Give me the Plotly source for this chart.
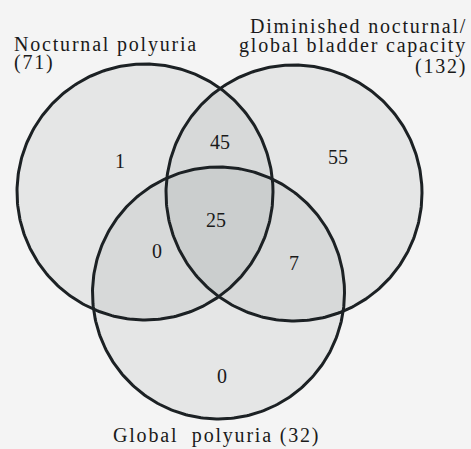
import numpy as np
import plotly.graph_objects as go

# ---- data ----
set_names = ["Nocturnal polyuria", "Diminished nocturnal/<br>global bladder capacity", "Global polyuria"]
set_totals = [71, 132, 32]
region_labels = ["A only", "B only", "C only", "A&B", "A&C", "B&C", "A&B&C"]
region_counts = [1, 55, 0, 45, 0, 7, 25]

# ---- geometry (pixel space) ----
W, H = 471, 449
circles = [(145, 192, 128), (294, 193, 128), (218.5, 293, 126)]
region_pos = [(120, 163), (338, 159), (222, 378), (220, 144), (157, 253), (294, 265), (216, 222)]

BG = "#f4f4f4"
FONT = "Liberation Serif, Times New Roman, serif"
LS = "letter-spacing:1.8px"

fig = go.Figure()
t = np.linspace(0, 2 * np.pi, 361)
for cx, cy, r in circles:
    fig.add_trace(go.Scatter(x=cx + r * np.cos(t), y=cy + r * np.sin(t), mode="lines",
                             fill="toself", fillcolor="rgba(110,116,122,0.11)",
                             line=dict(width=0), hoverinfo="skip", showlegend=False))
for cx, cy, r in circles:
    fig.add_trace(go.Scatter(x=cx + r * np.cos(t), y=cy + r * np.sin(t), mode="lines",
                             line=dict(color="#1c2124", width=3), hoverinfo="skip", showlegend=False))

fig.add_trace(go.Scatter(x=[p[0] for p in region_pos], y=[p[1] for p in region_pos],
                         mode="text", text=[str(v) for v in region_counts],
                         textfont=dict(family=FONT, size=20, color="#1a1a1a"),
                         hoverinfo="skip", showlegend=False))

def lab(text, x, y, anchor):
    fig.add_annotation(x=x, y=y, xref="x", yref="y", text=f'<span style="{LS}">{text}</span>',
                       showarrow=False, xanchor=anchor, yanchor="middle",
                       font=dict(family=FONT, size=20, color="#1a1a1a"))

lab(set_names[0], 12, 44, "left")
lab(f"({set_totals[0]})", 12, 62, "left")
l1, l2 = set_names[1].split("<br>")
lab(l1, 469, 26, "right")
lab(l2, 469, 45, "right")
lab(f"({set_totals[1]})", 469, 66, "right")
lab(f"{set_names[2].replace(' ', '  ')} ({set_totals[2]})", 216, 435, "center")

fig.update_xaxes(range=[0, W], visible=False, fixedrange=True)
fig.update_yaxes(range=[H, 0], visible=False, fixedrange=True)
fig.update_layout(width=W, height=H, margin=dict(l=0, r=0, t=0, b=0),
                  paper_bgcolor=BG, plot_bgcolor=BG, showlegend=False)
fig.write_html("out.html", config={"displayModeBar": False},
               post_script="document.body.style.margin='0';document.body.style.background='" + BG + "';")
